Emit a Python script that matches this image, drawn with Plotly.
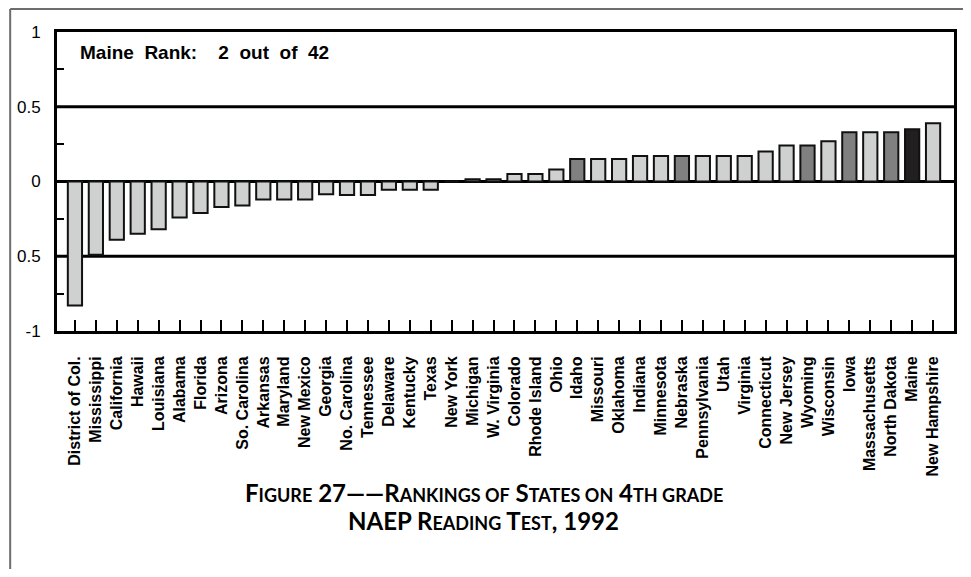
import plotly.graph_objects as go

states = ["District of Col.", "Mississippi", "California", "Hawaii", "Louisiana", "Alabama",
          "Florida", "Arizona", "So. Carolina", "Arkansas", "Maryland", "New Mexico", "Georgia",
          "No. Carolina", "Tennessee", "Delaware", "Kentucky", "Texas", "New York", "Michigan",
          "W. Virginia", "Colorado", "Rhode Island", "Ohio", "Idaho", "Missouri", "Oklahoma",
          "Indiana", "Minnesota", "Nebraska", "Pennsylvania", "Utah", "Virginia", "Connecticut",
          "New Jersey", "Wyoming", "Wisconsin", "Iowa", "Massachusetts", "North Dakota", "Maine",
          "New Hampshire"]
scores = [-0.83, -0.49, -0.39, -0.35, -0.32, -0.24, -0.21, -0.17, -0.16, -0.12, -0.12, -0.12,
          -0.085, -0.09, -0.09, -0.055, -0.055, -0.055, 0.0, 0.015, 0.015, 0.05, 0.05, 0.08,
          0.15, 0.15, 0.15, 0.17, 0.17, 0.17, 0.17, 0.17, 0.17, 0.2, 0.24, 0.24, 0.27, 0.33,
          0.33, 0.33, 0.35, 0.39]
# group: 0 = other states, 1 = not significantly different, 2 = Maine
groups = [0] * 24 + [1] + [0] * 4 + [1] + [0] * 5 + [1] + [0] + [1] + [0] + [1] + [2] + [0]
group_colors = {0: "#cfd1d0", 1: "#808080", 2: "#231f20"}

y_tickvals = [-1, -0.75, -0.5, -0.25, 0, 0.25, 0.5, 0.75, 1]
y_ticktext = ["-1", "", "0.5", "", "0", "", "0.5", "", "1"]
rank_text = "Maine\u00a0\u00a0Rank:\u00a0\u00a0\u00a0\u00a02\u00a0\u00a0out\u00a0\u00a0of\u00a0\u00a042"

fig = go.Figure(go.Bar(
    x=states, y=scores,
    marker=dict(color=[group_colors[g] for g in groups],
                line=dict(color="#111111", width=2)),
    width=0.68,
))

SC = "font-size:18px"
line1 = (f"F<span style='{SC}'>IGURE</span> 27——R<span style='{SC}'>ANKINGS OF</span> "
         f"S<span style='{SC}'>TATES ON</span> 4<span style='{SC}'>TH GRADE</span>")
line2 = (f"NAEP R<span style='{SC}'>EADING</span> T<span style='{SC}'>EST</span>, 1992")

fig.update_layout(
    width=955, height=561,
    margin=dict(l=49, r=6, t=24, b=238),
    paper_bgcolor="white", plot_bgcolor="white",
    showlegend=False,
    bargap=0.3,
    xaxis=dict(type="category", range=[-0.857, 42.0], showgrid=False,
               showline=True, linecolor="black", linewidth=3, mirror=True,
               ticks="inside", ticklen=11, tickwidth=2, tickcolor="black",
               tickangle=-90, ticklabelstandoff=16,
               tickfont=dict(family="Liberation Sans, Arial", size=16, color="black", weight="bold")),
    yaxis=dict(range=[-1, 1], tickvals=y_tickvals, ticktext=y_ticktext, showgrid=False,
               zeroline=True, zerolinecolor="black", zerolinewidth=3,
               showline=True, linecolor="black", linewidth=3, mirror=True,
               ticks="inside", ticklen=7, tickwidth=2, tickcolor="black",
               ticklabelstandoff=10,
               tickfont=dict(family="Liberation Sans, Arial", size=17, color="black")),
    shapes=[
        dict(type="line", xref="paper", yref="y", x0=0, x1=1, y0=0.5, y1=0.5,
             line=dict(color="black", width=3), layer="below"),
        dict(type="line", xref="paper", yref="y", x0=0, x1=1, y0=-0.5, y1=-0.5,
             line=dict(color="black", width=3), layer="below"),
        dict(type="line", xref="paper", yref="paper", x0=-0.0522, x1=-0.0522, y0=1.0769, y1=-0.85,
             line=dict(color="#6d6d6d", width=2)),
        dict(type="line", xref="paper", yref="paper", x0=-0.0522, x1=1.03, y0=1.0769, y1=1.0769,
             line=dict(color="#6d6d6d", width=2)),
    ],
    annotations=[
        dict(text=rank_text, xref="paper", yref="paper", x=0.0233, y=0.933,
             xanchor="left", yanchor="middle", showarrow=False,
             font=dict(family="Liberation Sans, Arial", size=19, color="black", weight="bold")),
        dict(text=line1, xref="paper", yref="paper", x=0.4756, y=-0.5418,
             xanchor="center", yanchor="middle", showarrow=False,
             font=dict(family="Lato", size=24, color="black", weight="bold")),
        dict(text=line2, xref="paper", yref="paper", x=0.4756, y=-0.635,
             xanchor="center", yanchor="middle", showarrow=False,
             font=dict(family="Lato", size=24, color="black", weight="bold")),
    ],
)

fig.write_html("out.html")
